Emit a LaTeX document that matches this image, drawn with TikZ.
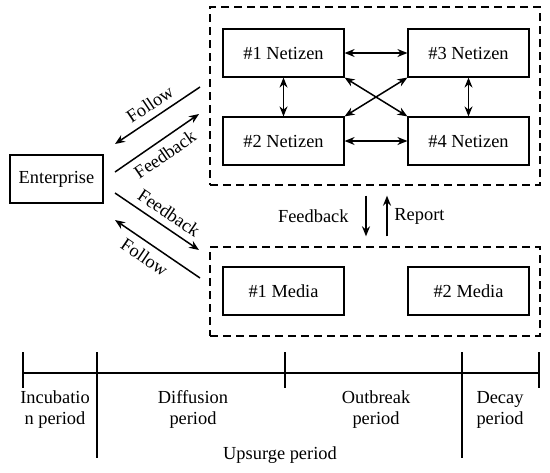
\documentclass[tikz,border=0pt]{standalone}
\usepackage{fontspec}
\setmainfont{Liberation Serif}
\usetikzlibrary{arrows.meta}

\begin{document}
\begin{tikzpicture}[
	x=0.5pt, y=-0.5pt,
	font=\fontsize{9.2}{10.5}\selectfont,
	>={Stealth[length=5pt, width=4pt]},
	% Style for actor boxes
	actor/.style={rectangle, draw, line width=0.6pt, minimum width=60.5pt, minimum height=24pt, inner sep=0pt},
	% Style for dashed groups
	group/.style={rectangle, draw, dash pattern=on 4pt off 2.5pt, line width=0.7pt, minimum width=165pt, inner sep=0pt},
	% Style for connectors and time axis
	link/.style={line width=0.75pt},
	axis/.style={line width=0.75pt}
	]
	
	\useasboundingbox (0,0) rectangle (550,472);
	
	% 1. Dashed groups
	\node[group, minimum height=89pt] (crowd) at (375,96) {};
	\node[group, minimum height=44.5pt] (press) at (375,291.5) {};
	
	% 2. Actors
	\node[actor, minimum width=46.5pt] (ent) at (56.5,179) {Enterprise};
	\node[actor] (net1) at (283.5,53) {\#1 Netizen};
	\node[actor] (net2) at (283.5,141) {\#2 Netizen};
	\node[actor] (net3) at (468.5,53) {\#3 Netizen};
	\node[actor] (net4) at (468.5,141) {\#4 Netizen};
	\node[actor] (med1) at (283.5,291) {\#1 Media};
	\node[actor] (med2) at (468.5,291) {\#2 Media};
	
	% 3. Links between netizens
	\draw[link, <->] (net1) -- (net3);
	\draw[link, <->] (net2) -- (net4);
	\draw[link, <->] (net1) -- (net2);
	\draw[link, <->] (net3) -- (net4);
	\draw[link, <->] (net1.south east) -- (net4.north west);
	\draw[link, <->] (net2.north east) -- (net3.south west);
	
	% 4. Enterprise <-> netizens and media
	\coordinate (fol1_a) at (115,144);
	\coordinate (fol1_b) at (200,87);
	\coordinate (fb1_a) at (115,172);
	\coordinate (fb1_b) at (199,114);
	\coordinate (fb2_a) at (115,193);
	\coordinate (fb2_b) at (199,250);
	\coordinate (fol2_a) at (115,220);
	\coordinate (fol2_b) at (200,278);
	\draw[link, <-] (fol1_a) -- (fol1_b) node[midway, sloped, above] {Follow};
	\draw[link, ->] (fb1_a) -- (fb1_b) node[midway, sloped, below] {Feedback};
	\draw[link, ->] (fb2_a) -- (fb2_b) node[pos=0.55, sloped, above] {Feedback};
	\draw[link, <-] (fol2_a) -- (fol2_b) node[pos=0.44, sloped, below] {Follow};
	
	% 5. Netizens <-> media
	\draw[link, ->] ([xshift=-4.5pt, yshift=-5pt]crowd.south) -- ([xshift=-4.5pt, yshift=5pt]press.north)
	node[midway, left=5pt] {Feedback};
	\draw[link, ->] ([xshift=6pt, yshift=5pt]press.north) -- ([xshift=6pt, yshift=-5pt]crowd.south)
	node[midway, right] {Report};
	
	% 6. Time axis
	\coordinate (t0) at (23,373);
	\coordinate (t1) at (97,373);
	\coordinate (t2) at (285,373);
	\coordinate (t3) at (462,373);
	\coordinate (t4) at (539,373);
	\draw[axis] (t0) -- (t4);
	\foreach \t in {t0, t2, t4}
	\draw[axis] ([yshift=10.5pt]\t) -- ([yshift=-7.5pt]\t);
	\foreach \t in {t1, t3}
	\draw[axis] ([yshift=10.5pt]\t) -- ([yshift=-42.5pt]\t);
	
	% 7. Period labels
	\node[align=center] (incub) at (55,409.5) {Incubatio\\n period};
	\node[align=center] (diffu) at (193,409.5) {Diffusion\\period};
	\node[align=center] (outbr) at (376,409.5) {Outbreak\\period};
	\node[align=center] (decay) at (500,409.5) {Decay\\period};
	\node (upsurge) at (280,455) {Upsurge period};
	
\end{tikzpicture}
\end{document}
